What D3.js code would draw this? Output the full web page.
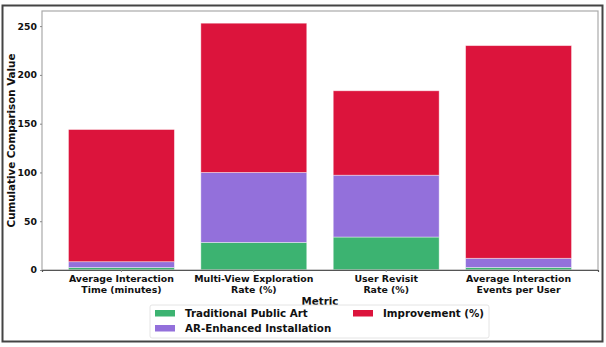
<!DOCTYPE html>
<html>
<head>
<meta charset="utf-8">
<script src="https://cdn.jsdelivr.net/npm/d3@7"></script>
<style>
  body { margin: 0; background: #fff; }
  svg { display: block; font-family: "DejaVu Sans", sans-serif; font-weight: bold; }
</style>
</head>
<body>
<svg id="chart" width="606" height="347"></svg>
<script>
const metrics = [
  ['Average Interaction', 'Time (minutes)'],
  ['Multi-View Exploration', 'Rate (%)'],
  ['User Revisit', 'Rate (%)'],
  ['Average Interaction', 'Events per User']
];
const traditional = [2.5, 28.3, 33.8, 2.6];
const arEnhanced = [6.0, 71.7, 63.4, 9.4];
const improvement = [135.5, 153, 86.5, 218];
const yTicks = [0, 50, 100, 150, 200, 250];

const seriesNames = ['Traditional Public Art', 'AR-Enhanced Installation', 'Improvement (%)'];
const colors = ['#3cb371', '#9370db', '#dc143c'];

const svg = d3.select('#chart');
const margin = { left: 42, right: 8, top: 11, bottom: 77 };
const width = 606 - margin.left - margin.right;
const height = 347 - margin.top - margin.bottom;

// outer frame of the figure
svg.append('rect')
  .attr('x', 2.5).attr('y', 5.5)
  .attr('width', 600).attr('height', 336)
  .attr('fill', 'none')
  .attr('stroke', '#444')
  .attr('stroke-width', 2);

const g = svg.append('g').attr('transform', `translate(${margin.left},${margin.top})`);

const rows = metrics.map((m, i) => ({
  idx: i,
  trad: traditional[i],
  ar: arEnhanced[i],
  imp: improvement[i]
}));

const stacked = d3.stack().keys(['trad', 'ar', 'imp'])(rows);

const x = d3.scaleBand()
  .domain(d3.range(metrics.length))
  .range([0, width])
  .paddingInner(0.2)
  .paddingOuter(0.2);

const y = d3.scaleLinear()
  .domain([0, 265.5])
  .range([height, 0]);

stacked.forEach((layer, k) => {
  g.append('g')
    .selectAll('rect')
    .data(layer)
    .enter()
    .append('rect')
    .attr('x', d => x(d.data.idx))
    .attr('width', x.bandwidth())
    .attr('y', d => y(d[1]))
    .attr('height', d => y(d[0]) - y(d[1]))
    .attr('fill', colors[k])
    .attr('stroke', '#fff')
    .attr('stroke-opacity', 0.5)
    .attr('stroke-width', 0.8);
});

// spines
g.append('rect')
  .attr('width', width).attr('height', height)
  .attr('fill', 'none')
  .attr('stroke', '#aaa')
  .attr('stroke-width', 1.2);

const yAxis = g.append('g')
  .call(d3.axisLeft(y).tickValues(yTicks).tickSize(2).tickPadding(3));
yAxis.select('.domain').remove();
yAxis.selectAll('line').attr('stroke', '#888');
yAxis.selectAll('text')
  .attr('font-size', 9.3)
  .attr('font-family', 'DejaVu Sans')
  .attr('font-weight', 'bold')
  .attr('fill', '#111');

const xAxis = g.append('g')
  .attr('transform', `translate(0,${height})`)
  .call(d3.axisBottom(x).tickSize(2).tickFormat(''));
xAxis.select('.domain').attr('stroke', '#555').attr('stroke-width', 1.2);
xAxis.selectAll('line').attr('stroke', '#888');

xAxis.selectAll('.tick')
  .append('text')
  .attr('text-anchor', 'middle')
  .attr('font-size', 9.4)
  .attr('font-family', 'DejaVu Sans')
  .attr('font-weight', 'bold')
  .attr('fill', '#111')
  .selectAll('tspan')
  .data(d => metrics[d])
  .enter()
  .append('tspan')
  .attr('x', 0)
  .attr('y', (d, i) => 12 + i * 10.8)
  .text(d => d);

g.append('text')
  .attr('x', width / 2)
  .attr('y', height + 34.5)
  .attr('text-anchor', 'middle')
  .attr('font-size', 10.3)
  .attr('fill', '#111')
  .text('Metric');

g.append('text')
  .attr('transform', `translate(${-27},${height / 2}) rotate(-90)`)
  .attr('text-anchor', 'middle')
  .attr('font-size', 10.3)
  .attr('fill', '#111')
  .text('Cumulative Comparison Value');

// legend
const legend = svg.append('g').attr('transform', 'translate(150,305)');
legend.append('rect')
  .attr('width', 339).attr('height', 33)
  .attr('rx', 2)
  .attr('fill', '#fff')
  .attr('stroke', '#ddd')
  .attr('stroke-width', 0.8);

const legendPos = [[0, 0], [0, 1], [1, 0]];
const colX = [5, 203];
legend.selectAll('g.item')
  .data(seriesNames)
  .enter()
  .append('g')
  .attr('class', 'item')
  .attr('transform', (d, i) => `translate(${colX[legendPos[i][0]]},${8.5 + legendPos[i][1] * 15})`)
  .each(function(d, i) {
    const item = d3.select(this);
    item.append('rect')
      .attr('width', 20).attr('height', 6.5)
      .attr('y', -3.5)
      .attr('fill', colors[i]);
    item.append('text')
      .attr('x', 30)
      .attr('y', 3.8)
      .attr('font-size', 10.3)
      .attr('fill', '#111')
      .text(d);
  });
</script>
</body>
</html>
